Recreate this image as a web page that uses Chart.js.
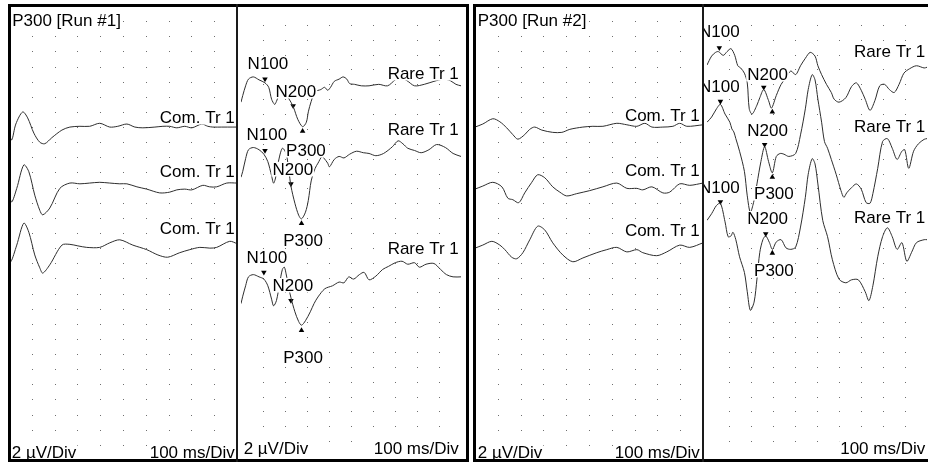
<!DOCTYPE html>
<html>
<head>
<meta charset="utf-8">
<title>P300</title>
<script src="https://cdn.jsdelivr.net/npm/chart.js@4.4.1/dist/chart.umd.min.js"></script>
<style>
  html, body { margin: 0; padding: 0; background: #fff; overflow: hidden; width: 928px; height: 466px; }
  canvas { position: absolute; top: 6px; }
  .rule { position: absolute; background: #000; z-index: 2; }
  .rule.div { background: #1a1a1a; }
</style>
</head>
<body>
<canvas id="run1Com" width="228" height="454" style="left:9px"></canvas>
<canvas id="run1Rare" width="228" height="454" style="left:237px"></canvas>
<canvas id="run2Com" width="228" height="454" style="left:475px"></canvas>
<canvas id="run2Rare" width="228" height="454" style="left:703px"></canvas>

<!-- frame of run #1 -->
<div class="rule" style="left:8px;top:4px;width:461px;height:3px"></div>
<div class="rule" style="left:8px;top:459px;width:461px;height:3px"></div>
<div class="rule" style="left:8px;top:4px;width:3px;height:458px"></div>
<div class="rule" style="left:466px;top:4px;width:3px;height:458px"></div>
<div class="rule div" style="left:236px;top:4px;width:2px;height:458px"></div>
<!-- frame of run #2 -->
<div class="rule" style="left:473px;top:4px;width:460px;height:3px"></div>
<div class="rule" style="left:473px;top:459px;width:460px;height:3px"></div>
<div class="rule" style="left:473px;top:4px;width:3px;height:458px"></div>
<div class="rule div" style="left:702px;top:4px;width:2px;height:458px"></div>

<script>
// traces: [latency ms, display µV], 2 µV/Div, 100 ms/Div, 30 x 10 divisions per sweep
const run1Com1 = [[0,16.9],[12,17.7],[30,15.6],[60,14.0],[82,14.8],[109,16.8],[135,18.0],[157,18.2],[188,17.4],[232,16.4],[267,16.0],[311,15.9],[354,15.9],[398,15.5],[442,16.0],[477,15.9],[517,15.6],[552,16.0],[587,16.1],[640,16.0],[675,15.9],[705,15.9],[736,16.1],[771,15.9],[802,16.1],[846,15.6],[872,15.9],[894,16.0],[933,16.0],[982,16.0],[1000,16.0]];
const run1Com2 = [[0,24.9],[12,25.9],[34,24.1],[65,21.0],[87,21.9],[113,25.0],[135,27.0],[148,27.6],[179,26.7],[223,24.1],[267,23.4],[311,23.5],[354,23.4],[398,23.3],[442,23.4],[486,23.5],[517,23.5],[561,23.9],[604,24.2],[661,24.7],[705,24.6],[736,24.3],[771,24.2],[802,24.3],[850,23.7],[880,23.9],[911,23.9],[955,23.4],[1000,23.4]];
const run1Com3 = [[0,33.0],[8,33.8],[34,31.6],[65,28.7],[87,29.9],[113,32.9],[135,34.6],[148,35.3],[179,34.2],[232,31.6],[267,31.5],[302,31.7],[341,31.9],[398,31.9],[442,31.3],[486,30.9],[543,31.6],[604,32.2],[653,32.9],[696,33.2],[749,32.6],[793,32.2],[837,31.9],[881,32.0],[911,31.9],[968,31.1],[1000,31.4]];

const run1Rare1 = [[0,12.4],[8,11.5],[21,10.2],[34,9.3],[56,9.0],[82,9.4],[109,9.8],[126,10.4],[139,12.0],[153,12.7],[161,12.3],[183,10.8],[205,11.4],[227,12.4],[240,13.2],[258,14.7],[280,15.7],[297,15.1],[306,13.7],[319,12.3],[337,11.0],[363,10.7],[380,10.4],[394,10.8],[407,10.4],[424,9.6],[446,9.3],[464,9.0],[481,9.3],[494,9.9],[516,10.0],[547,10.2],[582,10.2],[626,10.0],[666,10.2],[701,9.4],[723,9.1],[754,9.5],[789,10.2],[833,10.0],[877,9.6],[920,9.3],[951,9.5],[977,10.0],[1000,10.2]];
const run1Rare2 = [[0,22.5],[8,21.7],[21,20.0],[34,18.8],[56,18.5],[82,18.8],[104,19.4],[122,20.4],[139,22.3],[148,23.3],[157,22.6],[170,20.4],[188,18.6],[205,19.3],[218,21.7],[227,23.7],[245,26.0],[262,27.6],[275,28.1],[293,27.2],[306,25.6],[319,23.0],[337,21.3],[350,20.6],[368,19.7],[376,19.9],[394,20.6],[402,21.1],[424,20.1],[446,19.7],[468,19.9],[494,19.4],[525,19.0],[556,19.2],[582,19.3],[613,19.6],[648,19.3],[688,18.4],[714,17.6],[736,18.0],[758,18.6],[789,18.9],[819,19.2],[854,18.8],[889,18.1],[929,18.5],[964,19.3],[1000,19.7]];
const run1Rare3 = [[0,39.5],[8,38.5],[21,37.1],[34,35.9],[56,35.6],[82,35.9],[104,36.2],[122,37.1],[139,38.9],[148,39.8],[161,39.1],[175,36.9],[188,34.9],[197,34.6],[205,35.5],[218,37.5],[227,38.7],[245,40.6],[262,41.9],[275,42.4],[293,41.8],[315,40.6],[332,39.5],[350,38.6],[381,37.5],[416,37.1],[446,36.6],[468,36.7],[490,35.9],[512,36.2],[538,35.6],[560,35.3],[582,36.3],[613,35.8],[644,34.9],[670,34.5],[701,34.0],[732,33.8],[758,34.2],[789,34.0],[811,34.6],[841,34.2],[877,34.1],[907,34.9],[934,35.6],[964,35.9],[1000,35.9]];

const run2Com1 = [[0,16.0],[34,15.6],[78,14.9],[109,15.3],[139,16.1],[166,17.0],[188,17.6],[218,17.0],[240,16.3],[262,16.0],[293,16.4],[341,16.7],[381,16.7],[416,16.3],[473,16.0],[517,15.9],[561,15.9],[622,15.5],[666,15.7],[710,15.9],[745,15.5],[776,16.0],[824,16.0],[868,15.9],[898,15.5],[929,15.9],[1000,15.7]];
const run2Com2 = [[0,24.2],[34,23.8],[78,23.3],[118,23.9],[144,25.4],[166,25.6],[192,26.0],[218,24.7],[249,23.3],[275,22.3],[306,22.7],[341,23.9],[372,24.6],[402,25.1],[446,24.8],[503,24.4],[561,23.9],[622,23.4],[666,24.1],[710,24.1],[736,24.3],[776,23.9],[824,24.7],[854,24.6],[898,23.5],[942,23.7],[1000,23.4]];
const run2Com3 = [[0,32.0],[34,31.6],[74,31.1],[109,31.6],[131,32.2],[161,33.2],[183,33.4],[210,32.6],[240,30.9],[275,29.1],[306,29.6],[341,31.3],[385,32.9],[429,33.8],[473,33.3],[534,32.6],[578,32.2],[622,31.9],[666,32.5],[710,32.2],[736,32.6],[797,33.0],[841,32.5],[898,31.6],[942,31.9],[1000,31.3]];

const run2Rare1 = [[0,7.4],[21,6.2],[39,5.7],[52,5.6],[74,6.1],[91,5.6],[109,5.2],[126,6.1],[140,7.5],[153,7.8],[170,8.5],[183,9.8],[192,13.3],[205,14.0],[227,12.8],[240,11.8],[258,10.7],[280,12.2],[293,13.2],[315,11.5],[337,10.0],[359,9.1],[381,8.2],[403,8.7],[425,7.5],[447,6.5],[469,5.7],[491,6.2],[504,7.5],[521,8.7],[543,10.0],[565,11.1],[578,12.0],[600,12.4],[631,11.8],[657,10.3],[679,9.8],[701,10.8],[719,12.0],[741,13.5],[763,12.2],[785,10.2],[807,10.0],[829,10.7],[851,11.1],[873,10.0],[895,8.5],[921,7.9],[952,7.5],[987,7.8],[1000,7.7]];
const run2Rare2 = [[0,15.1],[21,14.4],[43,13.3],[61,12.7],[82,14.0],[104,15.1],[113,16.0],[122,16.4],[131,17.3],[148,19.0],[170,21.7],[183,25.0],[197,27.2],[214,25.6],[227,23.4],[245,20.4],[262,18.4],[280,20.4],[297,21.9],[315,19.7],[333,19.3],[350,19.4],[372,19.7],[403,19.3],[425,16.8],[447,13.3],[460,10.7],[478,8.7],[491,9.4],[504,12.0],[521,15.1],[534,17.7],[548,18.6],[565,20.1],[587,22.1],[609,24.3],[622,25.2],[635,24.6],[657,23.9],[679,23.4],[701,24.1],[723,25.9],[741,26.0],[754,24.7],[776,21.3],[798,17.7],[820,17.3],[842,18.6],[864,20.1],[886,19.0],[899,18.8],[917,21.3],[939,19.0],[961,18.0],[987,17.4],[1000,17.3]];
const run2Rare3 = [[0,28.3],[21,27.4],[43,26.3],[61,26.0],[82,28.5],[96,30.5],[109,30.4],[118,29.9],[131,30.9],[148,33.2],[170,35.3],[183,37.9],[197,40.4],[214,39.3],[227,36.2],[240,32.6],[254,30.9],[267,30.4],[284,31.3],[297,32.2],[315,31.2],[337,30.9],[359,32.0],[381,32.2],[403,31.9],[425,29.2],[447,25.2],[460,22.1],[478,20.0],[491,20.7],[504,23.4],[526,28.3],[548,30.5],[570,33.6],[600,36.2],[631,36.7],[657,36.3],[688,36.3],[719,37.9],[736,39.1],[754,37.1],[776,33.2],[798,30.5],[820,29.3],[842,30.5],[864,32.2],[886,31.3],[908,33.8],[930,32.6],[952,31.3],[987,30.9],[1000,30.9]];

// peak markers, one per rare trace
const run1N100 = [[109,9.3],[109,18.9],[104,35.3]];
const run1N200 = [[237,12.9],[227,23.4],[227,39.1]];
const run1P300 = [[280,16.3],[275,28.7],[275,43.1]];
const run2N100 = [[56,5.1],[61,12.3],[61,25.8]];
const run2N200 = [[258,10.4],[262,18.1],[267,30.1]];
const run2P300 = [[297,13.7],[297,22.5],[297,32.7]];

const FONT = '17px "Liberation Sans", Arial, sans-serif';

// dotted graticule, one dot per division crossing
const dotGrid = {
  id: 'dotGrid',
  beforeDatasetsDraw(chart) {
    const { ctx, scales: { x, y } } = chart;
    ctx.save();
    ctx.fillStyle = '#6e6e6e';
    for (let t = 100; t < 1000; t += 100) {
      for (let v = 2; v < 60; v += 2) {
        ctx.fillRect(Math.round(x.getPixelForValue(t)), Math.round(y.getPixelForValue(v)), 1, 1);
      }
    }
    ctx.restore();
  }
};

// text on an opaque white box, positioned in ms / µV
const traceLabels = {
  id: 'traceLabels',
  afterDatasetsDraw(chart, args, opts) {
    const { ctx, scales: { x, y } } = chart;
    ctx.save();
    ctx.font = FONT;
    ctx.textBaseline = 'middle';
    for (const lb of opts.items || []) {
      const w = ctx.measureText(lb.text).width;
      let px = x.getPixelForValue(lb.t);
      if (lb.align === 'right') px -= w;
      const py = Math.round(y.getPixelForValue(lb.v));
      ctx.fillStyle = '#fff';
      ctx.fillRect(px - 1, py - 8, w + 2, 14.5);
      ctx.fillStyle = '#000';
      ctx.fillText(lb.text, px, py);
    }
    ctx.restore();
  }
};

function toXY(arr) {
  return arr.map(([t, v]) => ({ x: t, y: v }));
}

function peakSet(arr, rotation) {
  return {
    data: toXY(arr),
    showLine: false,
    pointStyle: 'triangle',
    pointRadius: 3.2,
    pointRotation: rotation,
    pointBackgroundColor: '#000',
    pointBorderWidth: 0
  };
}

function drawPanel(id, traces, peaks, labels) {
  const datasets = traces.map(tr => ({
    data: toXY(tr),
    borderColor: '#2e2e2e',
    borderWidth: 1,
    pointRadius: 0,
    tension: 0.3,
    fill: false
  }));
  if (peaks) {
    datasets.push(peakSet(peaks[0], 180), peakSet(peaks[1], 180), peakSet(peaks[2], 0));
  }
  new Chart(document.getElementById(id), {
    type: 'line',
    data: { datasets },
    options: {
      responsive: false,
      animation: false,
      events: [],
      layout: { padding: 0 },
      scales: {
        x: { type: 'linear', min: 0, max: 1000, display: false },
        y: { type: 'linear', min: 0, max: 60, reverse: true, display: false }
      },
      plugins: {
        legend: { display: false },
        tooltip: { enabled: false },
        traceLabels: { items: labels }
      }
    },
    plugins: [dotGrid, traceLabels]
  });
}

drawPanel('run1Com', [run1Com1, run1Com2, run1Com3], null, [
  { text: 'P300 [Run #1]', t: 14, v: 2.0 },
  { text: 'Com. Tr 1', t: 990, v: 14.8, align: 'right' },
  { text: 'Com. Tr 1', t: 990, v: 21.9, align: 'right' },
  { text: 'Com. Tr 1', t: 990, v: 29.5, align: 'right' },
  { text: '2 µV/Div', t: 12, v: 59.1 },
  { text: '100 ms/Div', t: 990, v: 59.1, align: 'right' }
]);

drawPanel('run1Rare', [run1Rare1, run1Rare2, run1Rare3], [run1N100, run1N200, run1P300], [
  { text: 'N100', t: 30, v: 7.3 },
  { text: 'Rare Tr 1', t: 990, v: 8.6, align: 'right' },
  { text: 'N200', t: 157, v: 11.0 },
  { text: 'N100', t: 25, v: 16.8 },
  { text: 'Rare Tr 1', t: 990, v: 16.2, align: 'right' },
  { text: 'P300', t: 205, v: 19.0 },
  { text: 'N200', t: 143, v: 21.5 },
  { text: 'P300', t: 192, v: 31.1 },
  { text: 'N100', t: 25, v: 33.3 },
  { text: 'Rare Tr 1', t: 990, v: 32.2, align: 'right' },
  { text: 'N200', t: 143, v: 37.1 },
  { text: 'P300', t: 192, v: 46.8 },
  { text: '2 µV/Div', t: 12, v: 59.1 },
  { text: '100 ms/Div', t: 990, v: 59.1, align: 'right' }
]);

drawPanel('run2Com', [run2Com1, run2Com2, run2Com3], null, [
  { text: 'P300 [Run #2]', t: 12, v: 2.0 },
  { text: 'Com. Tr 1', t: 986, v: 14.6, align: 'right' },
  { text: 'Com. Tr 1', t: 986, v: 21.8, align: 'right' },
  { text: 'Com. Tr 1', t: 986, v: 29.8, align: 'right' },
  { text: '2 µV/Div', t: 12, v: 59.1 },
  { text: '100 ms/Div', t: 986, v: 59.1, align: 'right' }
]);

// the N100 tags start just left of the sweep divider, so their first letter is cut
drawPanel('run2Rare', [run2Rare1, run2Rare2, run2Rare3], [run2N100, run2N200, run2P300], [
  { text: 'N100', t: -36, v: 2.9 },
  { text: 'Rare Tr 1', t: 992, v: 5.7, align: 'right' },
  { text: 'N200', t: 183, v: 8.7 },
  { text: 'N100', t: -36, v: 10.3 },
  { text: 'Rare Tr 1', t: 992, v: 15.7, align: 'right' },
  { text: 'N200', t: 183, v: 16.3 },
  { text: 'N100', t: -36, v: 23.9 },
  { text: 'P300', t: 214, v: 24.8 },
  { text: 'Rare Tr 1', t: 992, v: 28.0, align: 'right' },
  { text: 'N200', t: 183, v: 28.1 },
  { text: 'P300', t: 214, v: 35.1 },
  { text: '100 ms/Div', t: 992, v: 59.1, align: 'right' }
]);
</script>
</body>
</html>
